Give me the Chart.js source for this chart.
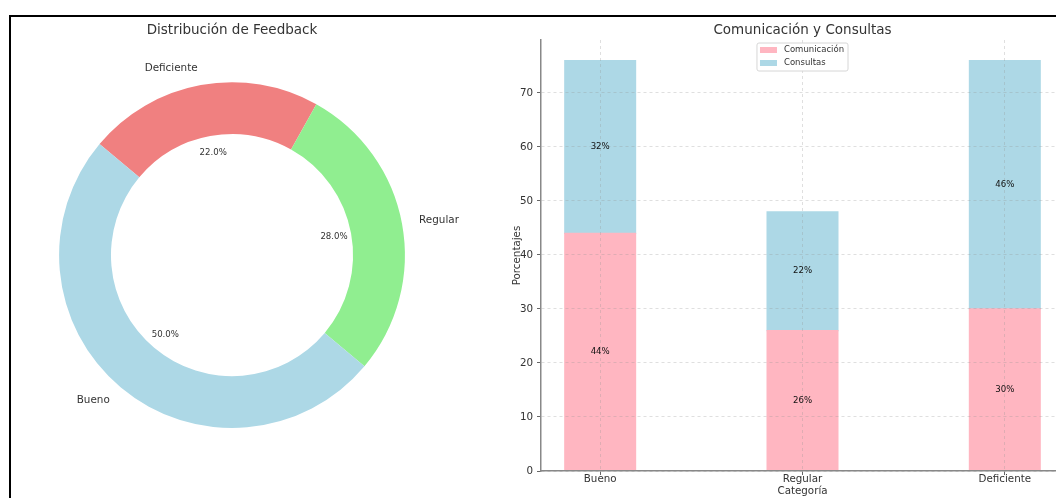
<!DOCTYPE html>
<html>
<head>
<meta charset="utf-8">
<script src="https://cdn.jsdelivr.net/npm/chart.js@4.4.1/dist/chart.umd.min.js"></script>
<style>
  html, body { margin: 0; padding: 0; background: #fff; width: 1056px; height: 498px; overflow: hidden; }
  #frame { position: absolute; left: 9px; top: 15px; width: 1100px; height: 600px; border: 2px solid #000; box-sizing: border-box; }
  #pie { position: absolute; left: 0; top: 0; }
  #bars { position: absolute; left: 490px; top: 0; }
</style>
</head>
<body>
<div id="frame"></div>
<canvas id="pie" width="464" height="498"></canvas>
<canvas id="bars" width="620" height="498"></canvas>
<script>
// ---- data ----
const categories = ['Bueno', 'Regular', 'Deficiente'];
const feedbackShare = [50, 28, 22];
const comunicacion = [44, 26, 30];
const consultas = [32, 22, 46];
const yTicks = [0, 10, 20, 30, 40, 50, 60, 70];

// ---- styles ----
const feedbackColors = ['#ADD8E6', '#90EE90', '#F08080'];
const comColor = '#FFB6C1';
const conColor = '#ADD8E6';
const FONT = 'DejaVu Sans';
const textColor = '#333';

Chart.defaults.font.family = FONT;
Chart.defaults.color = textColor;

// Slice names outside the ring, percentages inside it
const pieLabels = {
  id: 'pieLabels',
  afterDatasetsDraw(chart) {
    const ctx = chart.ctx;
    const meta = chart.getDatasetMeta(0);
    const ds = chart.data.datasets[0];
    const total = ds.data.reduce((a, b) => a + b, 0);
    meta.data.forEach((arc, i) => {
      const p = arc.getProps(['x', 'y', 'startAngle', 'endAngle', 'outerRadius'], true);
      const mid = (p.startAngle + p.endAngle) / 2;
      const c = Math.cos(mid), s = Math.sin(mid);
      ctx.save();
      ctx.textBaseline = 'middle';
      ctx.fillStyle = textColor;
      ctx.font = '10.4px "' + FONT + '"';
      ctx.textAlign = c < 0 ? 'right' : 'left';
      ctx.fillText(chart.data.labels[i], p.x + c * p.outerRadius * 1.1, p.y + s * p.outerRadius * 1.1);
      ctx.font = '8.6px "' + FONT + '"';
      ctx.textAlign = 'center';
      ctx.fillText((ds.data[i] / total * 100).toFixed(1) + '%', p.x + c * p.outerRadius * 0.6, p.y + s * p.outerRadius * 0.6);
      ctx.restore();
    });
  }
};

// Drawn clockwise from the upper-left, so the order runs Deficiente, Regular, Bueno
const pieOrder = [2, 1, 0];
new Chart(document.getElementById('pie'), {
  type: 'doughnut',
  data: {
    labels: pieOrder.map(i => categories[i]),
    datasets: [{
      data: pieOrder.map(i => feedbackShare[i]),
      backgroundColor: pieOrder.map(i => feedbackColors[i]),
      borderWidth: 0,
      hoverOffset: 0
    }]
  },
  options: {
    responsive: false,
    animation: false,
    cutout: '70%',
    rotation: -50,
    layout: { padding: { left: 59, right: 59, top: 0, bottom: 70 } },
    plugins: {
      legend: { display: false },
      tooltip: { enabled: false },
      title: {
        display: true,
        text: 'Distribución de Feedback',
        color: textColor,
        font: { family: FONT, size: 13.5, weight: 'normal' },
        padding: { top: 22, bottom: 44 }
      }
    }
  },
  plugins: [pieLabels]
});

// Percent value in the middle of each stacked segment
const barLabels = {
  id: 'barLabels',
  afterDraw(chart) {
    const ctx = chart.ctx;
    ctx.save();
    ctx.font = '8.6px "' + FONT + '"';
    ctx.fillStyle = '#111';
    ctx.textAlign = 'center';
    ctx.textBaseline = 'middle';
    chart.data.datasets.forEach((ds, di) => {
      chart.getDatasetMeta(di).data.forEach((bar, i) => {
        const p = bar.getProps(['x', 'y', 'base'], true);
        ctx.fillText(ds.data[i].y + '%', p.x, (p.y + p.base) / 2);
      });
    });
    ctx.restore();
  }
};

// Framed legend placed at the top centre of the plot area
const boxLegend = {
  id: 'boxLegend',
  afterDraw(chart) {
    const ctx = chart.ctx;
    const area = chart.chartArea;
    const items = chart.data.datasets.map(d => ({ text: d.label, color: d.backgroundColor }));
    ctx.save();
    ctx.font = '8.5px "' + FONT + '"';
    const textW = Math.max(...items.map(it => ctx.measureText(it.text).width));
    const padL = 3, handle = 17, gap = 7, padR = 4, padT = 7, rowH = 13, padB = 8;
    const w = padL + handle + gap + textW + padR;
    const h = padT + rowH * (items.length - 1) + padB;
    const left = (area.left + area.right) / 2 - w / 2;
    const top = area.top + 3;
    ctx.beginPath();
    ctx.roundRect(left, top, w, h, 2);
    ctx.fillStyle = 'rgba(255,255,255,0.85)';
    ctx.fill();
    ctx.strokeStyle = '#d6d6d6';
    ctx.lineWidth = 1;
    ctx.stroke();
    items.forEach((it, i) => {
      const cy = top + padT + rowH * i;
      ctx.fillStyle = it.color;
      ctx.fillRect(left + padL, cy - 3, handle, 6);
      ctx.fillStyle = textColor;
      ctx.textAlign = 'left';
      ctx.textBaseline = 'middle';
      ctx.fillText(it.text, left + padL + handle + gap, cy);
    });
    ctx.restore();
  }
};

const gridStyle = { color: 'rgba(150,150,150,0.3)', tickColor: '#666', tickLength: 4, offset: false, z: 1 };
const borderStyle = { color: '#888', width: 1.5, dash: [3, 3], z: 2 };
const labelFont = { family: FONT, size: 10.3 };

new Chart(document.getElementById('bars'), {
  type: 'bar',
  data: {
    datasets: [
      {
        label: 'Comunicación',
        data: comunicacion.map((v, i) => ({ x: i, y: v })),
        backgroundColor: comColor,
        borderWidth: 0,
        inflateAmount: 0.6,
        barPercentage: 0.35,
        categoryPercentage: 1
      },
      {
        label: 'Consultas',
        data: consultas.map((v, i) => ({ x: i, y: v })),
        backgroundColor: conColor,
        borderWidth: 0,
        inflateAmount: 0.6,
        barPercentage: 0.35,
        categoryPercentage: 1
      }
    ]
  },
  options: {
    responsive: false,
    animation: false,
    layout: { padding: { left: 0, right: 46, top: 0, bottom: 0 } },
    scales: {
      x: {
        type: 'linear',
        stacked: true,
        offset: false,
        min: -0.2925,
        max: 2.2925,
        afterBuildTicks: s => { s.ticks = categories.map((_, i) => ({ value: i })); },
        afterFit: s => { s.height = 27; },
        ticks: { callback: v => categories[v], color: textColor, font: labelFont, padding: -2, maxRotation: 0, autoSkip: false },
        grid: gridStyle,
        border: borderStyle,
        title: { display: true, text: 'Categoría', color: textColor, font: labelFont, padding: { top: 0, bottom: 0 } }
      },
      y: {
        stacked: true,
        min: 0,
        max: 79.8,
        afterBuildTicks: s => { s.ticks = yTicks.map(v => ({ value: v })); },
        afterFit: s => { s.width = 51; },
        ticks: { color: textColor, font: labelFont, padding: 4 },
        grid: gridStyle,
        border: borderStyle,
        title: { display: true, text: 'Porcentajes', color: textColor, font: labelFont, padding: { top: 21, bottom: 0 } }
      }
    },
    plugins: {
      legend: { display: false },
      tooltip: { enabled: false },
      title: {
        display: true,
        fullSize: false,
        text: 'Comunicación y Consultas',
        color: textColor,
        font: { family: FONT, size: 13.5, weight: 'normal' },
        padding: { top: 22, bottom: 1.8 }
      }
    }
  },
  plugins: [barLabels, boxLegend]
});
</script>
</body>
</html>
